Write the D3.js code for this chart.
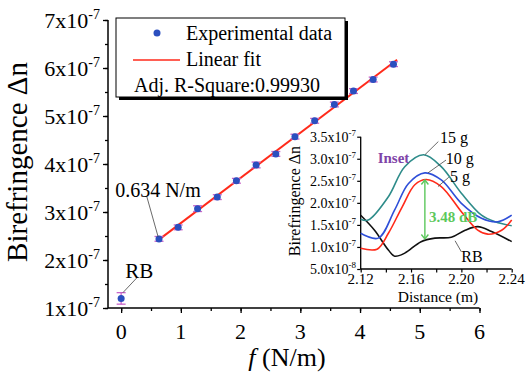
<!DOCTYPE html>
<html><head><meta charset="utf-8">
<script src="https://cdn.jsdelivr.net/npm/d3@7/dist/d3.min.js"></script>
<style>
html,body{margin:0;padding:0;background:#fff;}
svg{display:block;}
svg text{font-family:'Liberation Serif','Times New Roman',Times,'DejaVu Serif',serif;}
</style></head>
<body>
<svg id="chart" width="526" height="382"></svg>
<script>
// ---------- Main chart data ----------
const forceValues = [0, 0.634, 0.955, 1.28, 1.61, 1.93, 2.26, 2.59, 2.91, 3.24, 3.57, 3.89, 4.22, 4.56];   // f (N/m)
const biref = [1.20, 2.44, 2.68, 3.07, 3.31, 3.65, 3.98, 4.21, 4.57, 4.90, 5.24, 5.52, 5.76, 6.08];      // x1e-7
const birefErr = [0.12, 0.05, 0.05, 0.06, 0.05, 0.05, 0.06, 0.05, 0.05, 0.05, 0.05, 0.05, 0.05, 0.05];   // x1e-7
const fitRange = [0.6, 4.62];
const xTicks = [0, 1, 2, 3, 4, 5, 6];
const yTicks = [1, 2, 3, 4, 5, 6, 7];
const legendLabels = ["Experimental data", "Linear fit", "Adj. R-Square:0.99930"];

// ---------- Inset data ----------
const dist15 = [2.12, 2.126, 2.142, 2.155, 2.170, 2.184, 2.200, 2.216, 2.227, 2.24];
const biref15 = [1.63, 1.61, 2.14, 2.82, 3.09, 2.82, 2.22, 1.72, 1.57, 1.48];
const dist10 = [2.12, 2.134, 2.147, 2.158, 2.171, 2.184, 2.200, 2.216, 2.229, 2.24];
const biref10 = [1.31, 1.20, 1.84, 2.44, 2.68, 2.52, 1.99, 1.65, 1.57, 1.72];
const dist5 = [2.12, 2.133, 2.142, 2.153, 2.163, 2.172, 2.184, 2.200, 2.213, 2.221, 2.232, 2.24];
const biref5 = [0.97, 0.95, 1.31, 1.91, 2.41, 2.53, 2.37, 1.80, 1.38, 1.29, 1.38, 1.61];
const distRB = [2.12, 2.131, 2.142, 2.147, 2.155, 2.168, 2.179, 2.192, 2.203, 2.213, 2.224, 2.24];
const birefRB = [1.72, 1.38, 0.93, 0.79, 0.86, 1.12, 1.20, 1.22, 1.38, 1.46, 1.35, 1.12];
const insetXTicks = [2.12, 2.16, 2.20, 2.24];
const insetYTicks = [0.5, 1.0, 1.5, 2.0, 2.5, 3.0, 3.5];
const insetYLabels = ["5.0x10", "1.0x10", "1.5x10", "2.0x10", "2.5x10", "3.0x10", "3.5x10"];
const insetYExp = ["-8", "-7", "-7", "-7", "-7", "-7", "-7"];
const dipLabel = "3.48 dB";

const SERIF = "'Liberation Serif','Times New Roman',Times,'DejaVu Serif',serif";
const svg = d3.select("#chart").attr("font-family", SERIF);

// ---------- Scales ----------
const x = d3.scaleLinear().domain([-0.22, 6]).range([108, 479.5]);
const y = d3.scaleLinear().domain([1, 7]).range([308, 20]);

// ---------- Main axes ----------
const axisG = svg.append("g");
axisG.append("g").attr("transform", "translate(0,308)")
  .call(d3.axisBottom(x).tickValues(d3.range(0, 6.01, 0.5)).tickSize(3).tickFormat(""));
axisG.append("g").attr("transform", "translate(0,308)")
  .call(d3.axisBottom(x).tickValues(xTicks).tickSize(5).tickFormat(""));
axisG.append("g").attr("transform", "translate(108,0)")
  .call(d3.axisLeft(y).tickValues(d3.range(1, 7.01, 0.5)).tickSize(3).tickFormat(""));
axisG.append("g").attr("transform", "translate(108,0)")
  .call(d3.axisLeft(y).tickValues(yTicks).tickSize(5).tickFormat(""));
axisG.selectAll(".tick line").attr("stroke", "#000").attr("stroke-width", 1.3);
axisG.selectAll(".domain").remove();
axisG.append("line").attr("x1", x(-0.22)).attr("x2", x(6)).attr("y1", 308).attr("y2", 308).attr("stroke", "#000").attr("stroke-width", 1.5);
axisG.append("line").attr("x1", 108).attr("x2", 108).attr("y1", y(1)).attr("y2", y(7)).attr("stroke", "#000").attr("stroke-width", 1.5);

// tick labels
svg.append("g").selectAll("text").data(xTicks).join("text")
  .attr("x", d => x(d)).attr("y", 339).attr("text-anchor", "middle")
  .attr("font-size", 22).text(d => d);
const yl = svg.append("g").selectAll("text").data(yTicks).join("text")
  .attr("x", 100).attr("y", d => y(d) + 8).attr("text-anchor", "end").attr("font-size", 22);
yl.append("tspan").text(d => d + "x10");
yl.append("tspan").attr("dy", -9).attr("font-size", 14).text("-7");

// axis titles
svg.append("text").attr("transform", "translate(27,162) rotate(-90)").attr("text-anchor", "middle")
  .attr("font-size", 29).text("Birefringence \u0394n");
const xt = svg.append("text").attr("x", 287).attr("y", 366).attr("text-anchor", "middle").attr("font-size", 26);
xt.append("tspan").attr("font-style", "italic").text("f");
xt.append("tspan").text(" (N/m)");

// ---------- Fit line ----------
const fitPts = forceValues.slice(1).map((f, i) => [f, biref[i + 1]]);
const mx = d3.mean(fitPts, d => d[0]), my = d3.mean(fitPts, d => d[1]);
const slope = d3.sum(fitPts, d => (d[0] - mx) * (d[1] - my)) / d3.sum(fitPts, d => (d[0] - mx) ** 2);
const icpt = my - slope * mx;
svg.append("line")
  .attr("x1", x(fitRange[0])).attr("y1", y(icpt + slope * fitRange[0]))
  .attr("x2", x(fitRange[1])).attr("y2", y(icpt + slope * fitRange[1]))
  .attr("stroke", "#ff2a1a").attr("stroke-width", 2);

// ---------- Error bars & points ----------
const pts = forceValues.map((f, i) => ({f, b: biref[i], e: birefErr[i]}));
const eb = svg.append("g").attr("stroke", "#c864c8").attr("stroke-width", 1.3);
eb.selectAll(".v").data(pts).join("line")
  .attr("x1", d => x(d.f)).attr("x2", d => x(d.f)).attr("y1", d => y(d.b - d.e)).attr("y2", d => y(d.b + d.e));
eb.selectAll(".t").data(pts).join("line")
  .attr("x1", d => x(d.f) - 4.5).attr("x2", d => x(d.f) + 4.5).attr("y1", d => y(d.b + d.e)).attr("y2", d => y(d.b + d.e));
eb.selectAll(".b").data(pts).join("line")
  .attr("x1", d => x(d.f) - 4.5).attr("x2", d => x(d.f) + 4.5).attr("y1", d => y(d.b - d.e)).attr("y2", d => y(d.b - d.e));
svg.append("g").selectAll("circle").data(pts).join("circle")
  .attr("cx", d => x(d.f)).attr("cy", d => y(d.b)).attr("r", 3.5).attr("fill", "#2b4fbf");

// ---------- Main annotations ----------
svg.append("line").attr("x1", x(0.43)).attr("y1", y(3.32)).attr("x2", x(0.62)).attr("y2", y(2.48))
  .attr("stroke", "#444").attr("stroke-width", 0.8);
svg.append("text").attr("x", x(-0.1)).attr("y", y(3.32)).attr("font-size", 20).text("0.634 N/m");
svg.append("line").attr("x1", x(0.26)).attr("y1", y(1.625)).attr("x2", x(0.03)).attr("y2", y(1.32))
  .attr("stroke", "#444").attr("stroke-width", 0.8);
svg.append("text").attr("x", x(0.07)).attr("y", y(1.625)).attr("font-size", 21).text("RB");

// ---------- Legend ----------
const lg = svg.append("g");
lg.append("rect").attr("x", 119).attr("y", 21).attr("width", 229).attr("height", 79).attr("fill", "#000");
lg.append("rect").attr("x", 116).attr("y", 18).attr("width", 229).attr("height", 79)
  .attr("fill", "#fff").attr("stroke", "#000").attr("stroke-width", 1);
lg.append("circle").attr("cx", 157).attr("cy", 33).attr("r", 3.5).attr("fill", "#2b4fbf");
lg.append("line").attr("x1", 133).attr("x2", 180).attr("y1", 60).attr("y2", 60).attr("stroke", "#ff2a1a").attr("stroke-width", 1.5);
lg.append("text").attr("x", 186).attr("y", 40).attr("font-size", 20).text(legendLabels[0]);
lg.append("text").attr("x", 186).attr("y", 66).attr("font-size", 20).text(legendLabels[1]);
lg.append("text").attr("x", 134).attr("y", 92).attr("font-size", 20).text(legendLabels[2]);

// ---------- Inset ----------
const ix = d3.scaleLinear().domain([2.12, 2.24]).range([360.7, 511.7]);
const iy = d3.scaleLinear().domain([0.5, 3.5]).range([269, 136.7]);
const ig = svg.append("g");
ig.append("g").attr("transform", "translate(0,269)")
  .call(d3.axisBottom(ix).tickValues(d3.range(2.12, 2.2401, 0.02)).tickSize(3.5).tickFormat(""));
ig.append("g").attr("transform", "translate(360.7,0)")
  .call(d3.axisLeft(iy).tickValues(insetYTicks).tickSize(3.5).tickFormat(""));
ig.selectAll(".domain").remove();
ig.selectAll(".tick line").attr("stroke", "#000").attr("stroke-width", 1.2);
ig.append("line").attr("x1", ix(2.12)).attr("x2", ix(2.24)).attr("y1", 269).attr("y2", 269).attr("stroke", "#000").attr("stroke-width", 1.3);
ig.append("line").attr("x1", 360.7).attr("x2", 360.7).attr("y1", iy(0.5)).attr("y2", iy(3.5)).attr("stroke", "#000").attr("stroke-width", 1.3);

ig.append("g").selectAll("text").data(insetXTicks).join("text")
  .attr("x", d => ix(d)).attr("y", 284).attr("text-anchor", "middle").attr("font-size", 15)
  .text(d => d.toFixed(2));
const iyl = ig.append("g").selectAll("text").data(insetYTicks).join("text")
  .attr("x", 356).attr("y", (d) => iy(d) + 5).attr("text-anchor", "end").attr("font-size", 14);
iyl.append("tspan").text((d, i) => insetYLabels[i]);
iyl.append("tspan").attr("dy", -6).attr("font-size", 9).text((d, i) => insetYExp[i]);
ig.append("text").attr("x", 438).attr("y", 302).attr("text-anchor", "middle").attr("font-size", 15.5).text("Distance (m)");
ig.append("text").attr("transform", "translate(300,201) rotate(-90)").attr("text-anchor", "middle")
  .attr("font-size", 16).text("Birefringence \u0394n");

const line = d3.line().x(d => ix(d[0])).y(d => iy(d[1])).curve(d3.curveCatmullRom.alpha(0.5));
const curves = [
  {xs: distRB, ys: birefRB, c: "#111"},
  {xs: dist15, ys: biref15, c: "#2e8c8a"},
  {xs: dist10, ys: biref10, c: "#2f4fd8"},
  {xs: dist5, ys: biref5, c: "#ff2a1a"}
];
ig.selectAll(".curve").data(curves).join("path")
  .attr("d", d => line(d.xs.map((v, i) => [v, d.ys[i]])))
  .attr("fill", "none").attr("stroke", d => d.c).attr("stroke-width", 1.6);

// arrow
const green = "#5cc85c";
const ax = 2.171, aTop = 2.53, aBot = 1.17;
ig.append("line").attr("x1", ix(ax)).attr("x2", ix(ax)).attr("y1", iy(aTop) + 1).attr("y2", iy(aBot) - 1)
  .attr("stroke", green).attr("stroke-width", 1.4);
ig.append("path").attr("d", `M${ix(ax)-3.5},${iy(aTop)+5} L${ix(ax)},${iy(aTop)+0.5} L${ix(ax)+3.5},${iy(aTop)+5}`)
  .attr("fill", "none").attr("stroke", green).attr("stroke-width", 1.4);
ig.append("path").attr("d", `M${ix(ax)-3.5},${iy(aBot)-5} L${ix(ax)},${iy(aBot)-0.5} L${ix(ax)+3.5},${iy(aBot)-5}`)
  .attr("fill", "none").attr("stroke", green).attr("stroke-width", 1.4);
ig.append("text").attr("x", ix(2.1743)).attr("y", iy(1.57)).attr("font-size", 15).attr("font-weight", "bold")
  .attr("fill", green).text(dipLabel);
ig.append("text").attr("x", ix(2.1335)).attr("y", iy(2.90)).attr("font-size", 15).attr("font-weight", "bold")
  .attr("fill", "#7f44a8").text("Inset");

// curve labels with leaders
const labels = [
  {t: "15 g", tx: 2.183, ty: 3.36, l: [2.1817, 3.39, 2.171, 3.09]},
  {t: "10 g", tx: 2.1876, ty: 2.88, l: [2.1878, 2.97, 2.1735, 2.68]},
  {t: "5 g", tx: 2.191, ty: 2.48, l: [2.190, 2.58, 2.1814, 2.37]},
  {t: "RB", tx: 2.200, ty: 0.67, l: [2.200, 0.89, 2.195, 1.14]}
];
ig.selectAll(".lead").data(labels).join("line")
  .attr("x1", d => ix(d.l[0])).attr("y1", d => iy(d.l[1])).attr("x2", d => ix(d.l[2])).attr("y2", d => iy(d.l[3]))
  .attr("stroke", "#444").attr("stroke-width", 0.8);
ig.selectAll(".lab").data(labels).join("text")
  .attr("x", d => ix(d.tx)).attr("y", d => iy(d.ty)).attr("font-size", 16).text(d => d.t);
</script>
</body></html>
